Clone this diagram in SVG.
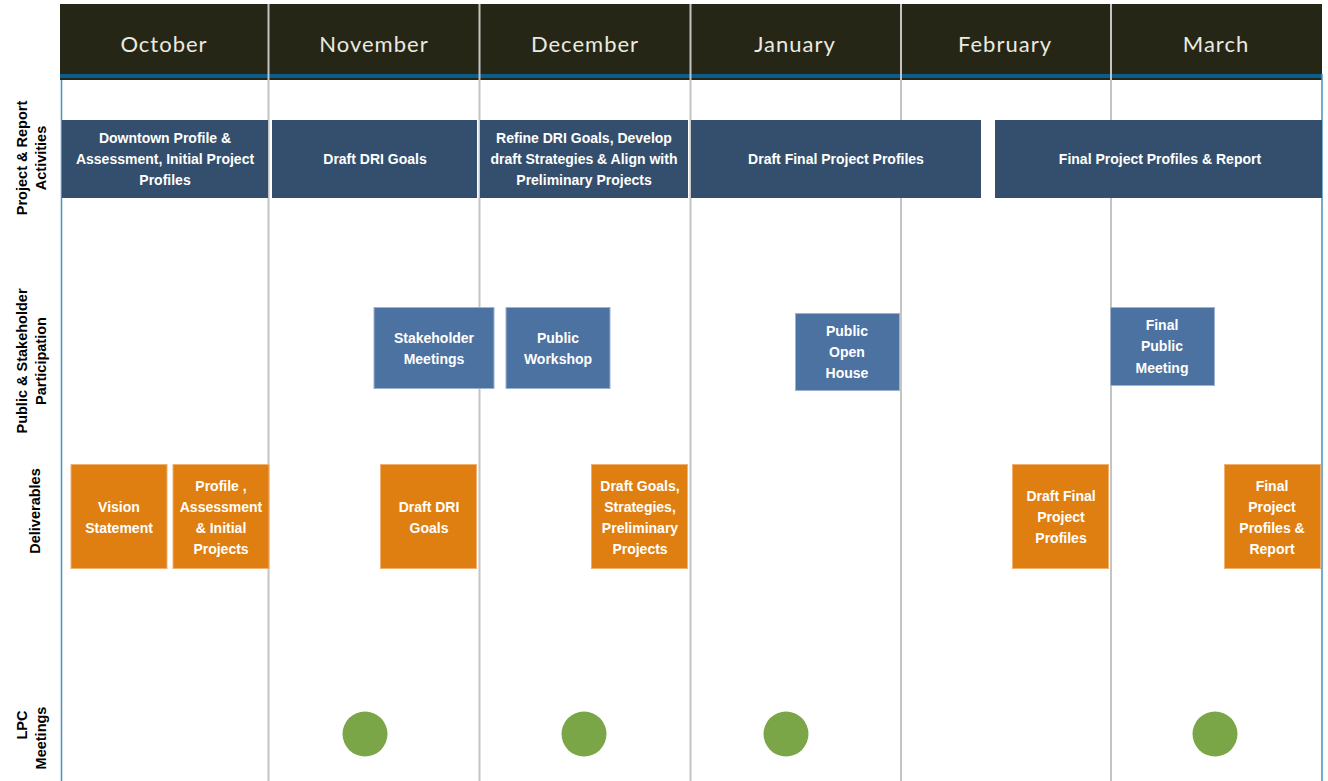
<svg xmlns="http://www.w3.org/2000/svg" width="1328" height="781" viewBox="0 0 1328 781">
<style>
.hdr{fill:#262617}
.month{font-family:"Lato","Liberation Sans",sans-serif;font-size:22px;letter-spacing:1px;fill:#eaeae0;text-anchor:middle;dominant-baseline:central}
.div{stroke:#c4c4c4;stroke-width:2}
.act rect{fill:#344f6e}
.part rect{fill:#4c72a2;stroke:#9db3d0;stroke-width:1}
.del rect{fill:#df7f12;stroke:#f0b070;stroke-width:1}
.bt{font-family:"Liberation Sans Narrow","Liberation Sans",sans-serif;font-weight:bold;font-size:14px;fill:#ffffff;text-anchor:middle;dominant-baseline:central}
.lbl{font-family:"Liberation Sans",sans-serif;font-weight:bold;font-size:14.5px;fill:#000;text-anchor:middle;dominant-baseline:central}
.lpc{fill:#7aa648}
</style>
<rect width="1328" height="781" fill="#ffffff"/>
<g id="header">
<rect class="hdr" x="60" y="4" width="1262" height="76"/>
<rect x="60" y="74" width="1262" height="4" fill="#0b5d8e"/>
<rect x="60" y="78" width="1262" height="2" fill="#262617"/>
</g>
<g id="grid">
<line class="div" x1="268.5" y1="4" x2="268.5" y2="781"/>
<line class="div" x1="479.5" y1="4" x2="479.5" y2="781"/>
<line class="div" x1="690.5" y1="4" x2="690.5" y2="781"/>
<line class="div" x1="901" y1="4" x2="901" y2="781"/>
<line class="div" x1="1111" y1="4" x2="1111" y2="781"/>
<line x1="61.5" y1="80" x2="61.5" y2="781" stroke="#4a90c0" stroke-width="1.5"/>
<line x1="1322" y1="74" x2="1322" y2="781" stroke="#4a90c0" stroke-width="1.5"/>
</g>
<g id="months">
<text class="month" x="164" y="43">October</text>
<text class="month" x="374" y="43">November</text>
<text class="month" x="585" y="43">December</text>
<text class="month" x="795" y="43">January</text>
<text class="month" x="1005" y="43">February</text>
<text class="month" x="1216" y="43">March</text>
</g>
<g id="row-labels">
<text class="lbl" transform="translate(22,158) rotate(-90)">Project &amp; Report</text>
<text class="lbl" transform="translate(41,158) rotate(-90)">Activities</text>
<text class="lbl" transform="translate(22,361) rotate(-90)">Public &amp; Stakeholder</text>
<text class="lbl" transform="translate(41,361) rotate(-90)">Participation</text>
<text class="lbl" transform="translate(35,511) rotate(-90)">Deliverables</text>
<text class="lbl" transform="translate(22,725) rotate(-90)">LPC</text>
<text class="lbl" transform="translate(41,738) rotate(-90)">Meetings</text>
</g>
<g id="act-oct" class="act"><rect x="62" y="120" width="206" height="78"/>
<text class="bt" x="165" y="138">Downtown Profile &amp;</text><text class="bt" x="165" y="159">Assessment, Initial Project</text><text class="bt" x="165" y="180">Profiles</text></g>
<g id="act-nov" class="act"><rect x="272" y="120" width="205" height="78"/>
<text class="bt" x="375" y="159">Draft DRI Goals</text></g>
<g id="act-dec" class="act"><rect x="480" y="120" width="208" height="78"/>
<text class="bt" x="584" y="138">Refine DRI Goals,  Develop</text><text class="bt" x="584" y="159">draft Strategies &amp; Align with</text><text class="bt" x="584" y="180">Preliminary Projects</text></g>
<g id="act-jan" class="act"><rect x="691" y="120" width="290" height="78"/>
<text class="bt" x="836" y="159">Draft Final Project Profiles</text></g>
<g id="act-mar" class="act"><rect x="995" y="120" width="327" height="78"/>
<text class="bt" x="1160" y="159">Final Project Profiles &amp; Report</text></g>
<g id="part-stake" class="part"><rect x="374" y="307.5" width="120" height="81"/>
<text class="bt" x="434" y="338">Stakeholder</text><text class="bt" x="434" y="359">Meetings</text></g>
<g id="part-workshop" class="part"><rect x="506" y="307.5" width="104" height="81"/>
<text class="bt" x="558" y="338">Public</text><text class="bt" x="558" y="359">Workshop</text></g>
<g id="part-openhouse" class="part"><rect x="795.5" y="313.5" width="104" height="77"/>
<text class="bt" x="847" y="331">Public</text><text class="bt" x="847" y="352">Open</text><text class="bt" x="847" y="373">House</text></g>
<g id="part-final" class="part"><rect x="1110.5" y="307.5" width="104" height="78"/>
<text class="bt" x="1162" y="325">Final</text><text class="bt" x="1162" y="346">Public</text><text class="bt" x="1162" y="368">Meeting</text></g>
<g id="del-vision" class="del"><rect x="71" y="464.5" width="96" height="104"/>
<text class="bt" x="119" y="507">Vision</text><text class="bt" x="119" y="528">Statement</text></g>
<g id="del-profile" class="del"><rect x="173" y="464.5" width="96" height="104"/>
<text class="bt" x="221" y="486">Profile ,</text><text class="bt" x="221" y="507">Assessment</text><text class="bt" x="221" y="528">&amp; Initial</text><text class="bt" x="221" y="549">Projects</text></g>
<g id="del-draftdri" class="del"><rect x="380.5" y="464.5" width="96" height="104"/>
<text class="bt" x="429" y="507">Draft DRI</text><text class="bt" x="429" y="528">Goals</text></g>
<g id="del-draftgoals" class="del"><rect x="591.5" y="464.5" width="96" height="104"/>
<text class="bt" x="640" y="486">Draft Goals,</text><text class="bt" x="640" y="507">Strategies,</text><text class="bt" x="640" y="528">Preliminary</text><text class="bt" x="640" y="549">Projects</text></g>
<g id="del-draftfinal" class="del"><rect x="1012.5" y="464.5" width="96" height="104"/>
<text class="bt" x="1061" y="496">Draft Final</text><text class="bt" x="1061" y="517">Project</text><text class="bt" x="1061" y="538">Profiles</text></g>
<g id="del-final" class="del"><rect x="1224.5" y="464.5" width="96" height="104"/>
<text class="bt" x="1272" y="486">Final</text><text class="bt" x="1272" y="507">Project</text><text class="bt" x="1272" y="528">Profiles &amp;</text><text class="bt" x="1272" y="549">Report</text></g>
<g id="lpc-nov"><circle class="lpc" cx="365" cy="734" r="22.5"/></g>
<g id="lpc-dec"><circle class="lpc" cx="584" cy="734" r="22.5"/></g>
<g id="lpc-jan"><circle class="lpc" cx="786" cy="734" r="22.5"/></g>
<g id="lpc-mar"><circle class="lpc" cx="1215" cy="734" r="22.5"/></g>
<g id="connectors"></g>
</svg>
